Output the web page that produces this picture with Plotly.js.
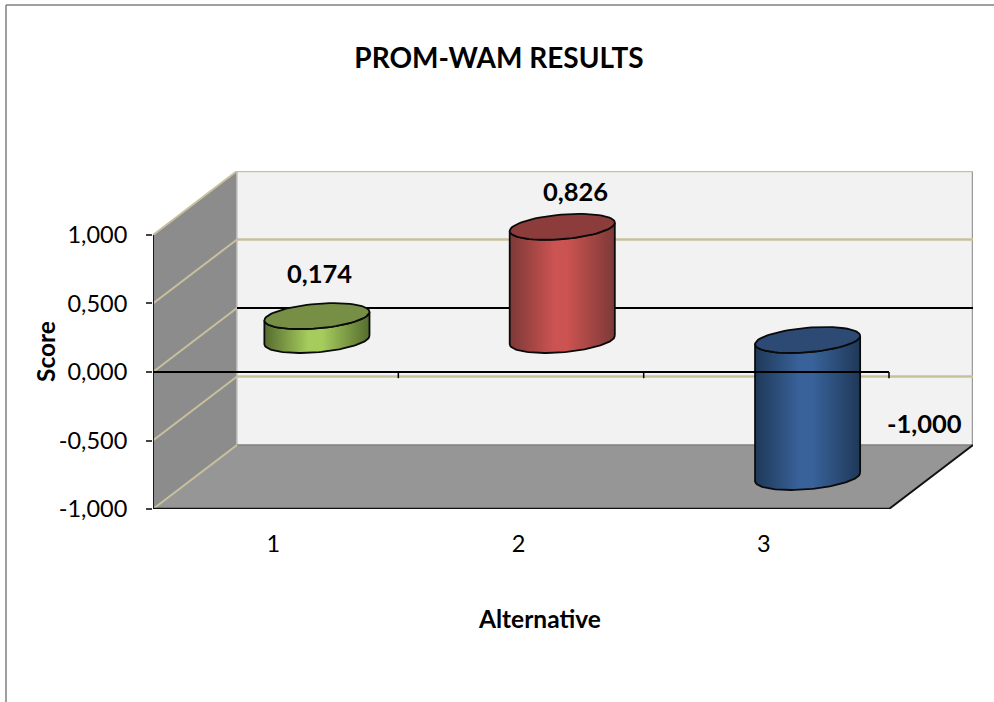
<!DOCTYPE html>
<html>
<head>
<meta charset="utf-8">
<script src="https://cdn.plot.ly/plotly-3.0.1.min.js"></script>
<style>html,body{margin:0;padding:0;background:#fff}#chart{width:994px;height:702px}</style>
</head>
<body>
<div id="chart"></div>
<script>
// Series
const categories = ['1', '2', '3'];
const scores = [0.174, 0.826, -1.0];
const scoreTicks = [-1, -0.5, 0, 0.5, 1];
const chartTitle = 'PROM-WAM RESULTS';
const xTitle = 'Alternative';
const yTitle = 'Score';

// Cylinder colours: edge shade, highlight shade, cap
const sideDark = ['#566c2e', '#7c3937', '#1f3858'];
const sideLight = ['#a6cc5e', '#cb5351', '#386299'];
const capColor = ['#768f44', '#8c3c3b', '#2c4a73'];

// Oblique projection of the chart box: one full depth step in axis units
const depthX = 0.3424, depthY = 0.467;
const project = (x, y, d) => [x + d * depthX, y + d * depthY];
const yMin = -1, yMax = 1, nCat = categories.length;

const fmt = v => v.toFixed(3).replace('.', ',');
const poly = (pts, fill, line, width) => ({
  type: 'scatter', mode: 'lines', hoverinfo: 'skip', showlegend: false, cliponaxis: false,
  x: pts.map(p => p[0]), y: pts.map(p => p[1]),
  fill: fill ? 'toself' : 'none', fillcolor: fill || undefined,
  line: {color: line || 'rgba(0,0,0,0)', width: width === undefined ? 1 : width}
});

const traces = [];

// Box: back wall, floor, left wall
const bw = [project(0, yMin, 1), project(nCat, yMin, 1), project(nCat, yMax, 1), project(0, yMax, 1), project(0, yMin, 1)];
traces.push(poly(bw, '#f2f2f2'));
const floor = [project(0, yMin, 0), project(nCat, yMin, 0), project(nCat, yMin, 1), project(0, yMin, 1), project(0, yMin, 0)];
traces.push(poly(floor, '#969696'));
const wall = [project(0, yMin, 0), project(0, yMax, 0), project(0, yMax, 1), project(0, yMin, 1), project(0, yMin, 0)];
traces.push(poly(wall, '#8c8c8c'));

// Wall edges
traces.push(poly([project(nCat, yMin, 1), project(nCat, yMax, 1)], null, '#9a9a9a', 2.5));
traces.push(poly([project(0, yMin, 1), project(0, yMax, 1)], null, '#c4c4c4', 1.5));
traces.push(poly([project(0, yMin, 1), project(nCat, yMin, 1)], null, '#808080', 1.5));

// Gridlines run across the left wall and along the back wall
const gridTan = '#c8c09c';
scoreTicks.forEach(t => {
  traces.push(poly([project(0, t, 0), project(0, t, 1)], null, gridTan, 2));
  if (t === 0) traces.push(poly([project(0, t, 1), project(nCat, t, 1)], null, '#000000', 2));
  else if (t !== yMin) traces.push(poly([project(0, t, 1), project(nCat, t, 1)], null, gridTan, 2.5));
});

// Cylinders stand halfway into the depth of the box
const barRadius = 0.2026;       // in x-axis units
const depthRadius = 0.203;      // fraction of full depth
const rim = (cx, y, t) => {
  const dx = barRadius * Math.cos(t);
  const d = 0.5 + depthRadius * Math.sin(t);
  return project(cx + dx, y, d);
};
const tExtreme = Math.atan2(depthRadius * depthX, barRadius);
const STEPS = 72;

scores.forEach((v, i) => {
  const cx = i + 0.497;
  const hi = Math.max(v, 0), lo = Math.min(v, 0);
  // Side: front arc along the base, back along the front arc of the cap
  const side = [];
  for (let k = 0; k <= STEPS; k++) side.push(rim(cx, lo, tExtreme - Math.PI * k / STEPS));
  for (let k = STEPS; k >= 0; k--) side.push(rim(cx, hi, tExtreme - Math.PI * k / STEPS));
  side.push(side[0]);
  const sideTrace = poly(side, sideLight[i], '#0a0a0a', 1.8);
  delete sideTrace.fillcolor;
  sideTrace.fillgradient = {
    type: 'horizontal',
    colorscale: [[0, sideDark[i]], [0.42, sideLight[i]], [0.55, sideLight[i]], [1, sideDark[i]]]
  };
  traces.push(sideTrace);
  // Cap
  const cap = [];
  for (let k = 0; k <= STEPS; k++) cap.push(rim(cx, hi, 2 * Math.PI * k / STEPS));
  traces.push(poly(cap, capColor[i], '#0a0a0a', 1.8));
});

// Front axis lines
traces.push(poly([project(0, yMin, 0), project(0, yMax, 0)], null, '#1a1a1a', 2));
traces.push(poly([project(0, yMin, 0), project(nCat, yMin, 0)], null, '#111111', 2.5));
traces.push(poly([project(nCat, yMin, 0), project(nCat, yMin, 1)], null, '#111111', 2));
traces.push(poly([project(0, 0, 0), project(nCat, 0, 0)], null, '#000000', 2));
categories.forEach((c, i) => {
  traces.push(poly([[i + 1, 0], [i + 1, -0.045]], null, '#000000', 1.5));
});

// Value labels sit above the caps; the negative one sits beside its bar
const labelAnchors = [[0.5 + depthX * 0.5 + 0.006, 0.72], [1.5 + depthX * 0.5 + 0.05, 1.322], [3.143, -0.372]];
const annotations = scores.map((v, i) => ({
  xref: 'x', yref: 'y', x: labelAnchors[i][0], y: labelAnchors[i][1],
  text: '<b>' + fmt(v) + '</b>', showarrow: false, xanchor: 'center', yanchor: 'middle',
  font: {family: 'Lato', size: 25.5, color: '#000'}
}));
annotations.push({
  xref: 'paper', yref: 'paper', x: (539 - 153) / 820, y: -(618 - 509) / 338,
  text: '<b>' + xTitle + '</b>', showarrow: false, xanchor: 'center', yanchor: 'middle',
  font: {family: 'Lato', size: 24.5, color: '#000'}
});
annotations.push({
  xref: 'paper', yref: 'paper', x: -(153 - 45) / 820, y: (509 - 352) / 338,
  text: '<b>' + yTitle + '</b>', showarrow: false, textangle: -90, xanchor: 'center', yanchor: 'middle',
  font: {family: 'Lato', size: 24.5, color: '#000'}
});

const layout = {
  width: 994, height: 702,
  margin: {l: 153, r: 21, t: 171, b: 193, pad: 0},
  paper_bgcolor: '#ffffff', plot_bgcolor: 'rgba(0,0,0,0)',
  showlegend: false, hovermode: false,
  title: {
    text: '<b>' + chartTitle + '</b>', x: 499 / 994, xanchor: 'center', y: 1 - 58 / 702, yanchor: 'middle',
    font: {family: 'Lato', size: 28, color: '#000'}
  },
  xaxis: {
    range: [0, nCat + depthX], showgrid: false, zeroline: false, showline: false, ticks: '',
    tickmode: 'array', tickvals: categories.map((c, i) => i + 0.49), ticktext: categories,
    ticklabelstandoff: 18, tickfont: {family: 'Lato', size: 23.5, color: '#000'}
  },
  yaxis: {
    range: [yMin, yMax + depthY], showgrid: false, zeroline: false, showline: false,
    ticks: 'outside', ticklen: 6, tickwidth: 1.5, tickcolor: '#444',
    tickmode: 'array', tickvals: scoreTicks, ticktext: scoreTicks.map(fmt),
    ticklabelstandoff: 14, tickfont: {family: 'Lato', size: 23.5, color: '#000'}
  },
  annotations: annotations,
  // Outer chart frame: top and left borders only
  shapes: [
    {type: 'line', xref: 'paper', yref: 'paper', x0: -(153 - 6) / 820, x1: (994 - 153) / 820, y0: (509 - 5) / 338, y1: (509 - 5) / 338, line: {color: '#7f7f7f', width: 1.5}},
    {type: 'line', xref: 'paper', yref: 'paper', x0: -(153 - 6) / 820, x1: -(153 - 6) / 820, y0: (509 - 5) / 338, y1: -(702 - 509) / 338, line: {color: '#7f7f7f', width: 1.5}}
  ]
};

Plotly.newPlot('chart', traces, layout, {displayModeBar: false, responsive: false});
</script>
</body>
</html>
